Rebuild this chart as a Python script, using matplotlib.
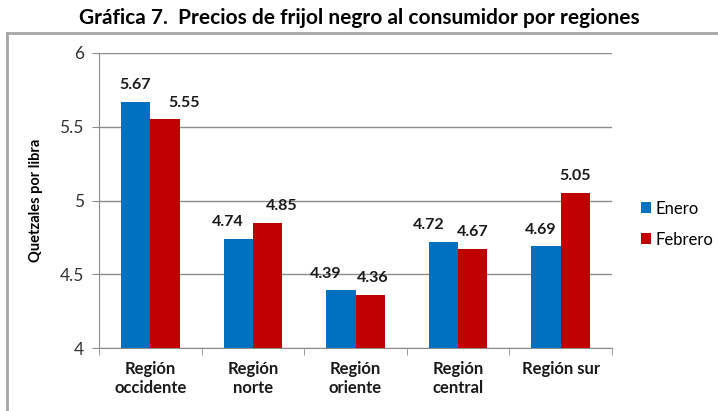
import numpy as np
import matplotlib
matplotlib.use("Agg")
import matplotlib.pyplot as plt
from matplotlib.lines import Line2D

plt.rcParams['font.family'] = ['Lato', 'DejaVu Sans']

regiones = ["Región\noccidente", "Región\nnorte", "Región\noriente", "Región\ncentral", "Región sur"]
enero = [5.67, 4.74, 4.39, 4.72, 4.69]
febrero = [5.55, 4.85, 4.36, 4.67, 5.05]
yticks = [4, 4.5, 5, 5.5, 6]

# desplazamiento horizontal de las etiquetas (px), como las coloca Excel
dx_enero = [-1, -11, -15, -15, -5]
dx_febrero = [19, 14, 3, 0, 0]

blue = '#0070C0'
red = '#C00000'

fig = plt.figure(figsize=(7.18, 4.11), dpi=100)
ax1 = fig.add_axes([99/718, 1-348/411, (612-99)/718, (348-53)/411])

x = np.arange(len(regiones))
w = 0.285
ax1.bar(x - w/2, np.array(enero) - 4, w, bottom=4, color=blue, label='Enero', zorder=3)
ax1.bar(x + w/2, np.array(febrero) - 4, w, bottom=4, color=red, label='Febrero', zorder=3)

for xi, v, d in zip(x - w/2, enero, dx_enero):
    ax1.annotate('%.2f' % v, (xi, v), xytext=(d*0.72, 7), textcoords='offset points',
                 ha='center', va='bottom', fontsize=11.5, fontweight='bold', color='#1a1a1a')
for xi, v, d in zip(x + w/2, febrero, dx_febrero):
    ax1.annotate('%.2f' % v, (xi, v), xytext=(d*0.72, 7), textcoords='offset points',
                 ha='center', va='bottom', fontsize=11.5, fontweight='bold', color='#1a1a1a')

ax1.set_xlim(-0.5, len(regiones) - 0.5)
ax1.set_ylim(4, 6)
ax1.set_yticks(yticks)
ax1.set_yticklabels(['4', '4.5', '5', '5.5', '6'], fontsize=12.5, color='#333333')
ax1.yaxis.grid(True, color='#8c8c8c', linewidth=1, zorder=0)
ax1.set_axisbelow(True)

ax1.set_xticks(x)
ax1.set_xticklabels(regiones, fontsize=12, fontweight='bold', color='#1a1a1a', linespacing=1.25)
ax1.tick_params(axis='x', length=0, pad=9)
ax1.set_xticks(np.arange(len(regiones) + 1) - 0.5, minor=True)
ax1.tick_params(axis='x', which='minor', length=5, color='#8c8c8c', direction='out')
ax1.tick_params(axis='y', length=5, color='#8c8c8c', direction='out', pad=6)

for s in ['top', 'right']:
    ax1.spines[s].set_visible(False)
for s in ['left', 'bottom']:
    ax1.spines[s].set_color('#8c8c8c')

ax1.set_ylabel('Quetzales por libra', fontsize=10.5, fontweight='bold', labelpad=12)

ax1.legend(loc='center left', bbox_to_anchor=(641/718, 1-224/411), bbox_transform=fig.transFigure,
           frameon=False, borderpad=0, borderaxespad=0,
           fontsize=12, handlelength=0.6, handleheight=0.6, handletextpad=0.25,
           labelspacing=0.9)

fig.text(0.5, 1-18/411, 'Gráfica 7.  Precios de frijol negro al consumidor por regiones',
         ha='center', va='center', fontsize=15, fontweight='bold')

# marco exterior
fig.add_artist(Line2D([7/718, 7/718], [0, 1-33/411], color='#a6a6a6', linewidth=2))
fig.add_artist(Line2D([7/718, 1], [1-33/411, 1-33/411], color='#a6a6a6', linewidth=2))

fig.savefig('out.png', dpi=100)
